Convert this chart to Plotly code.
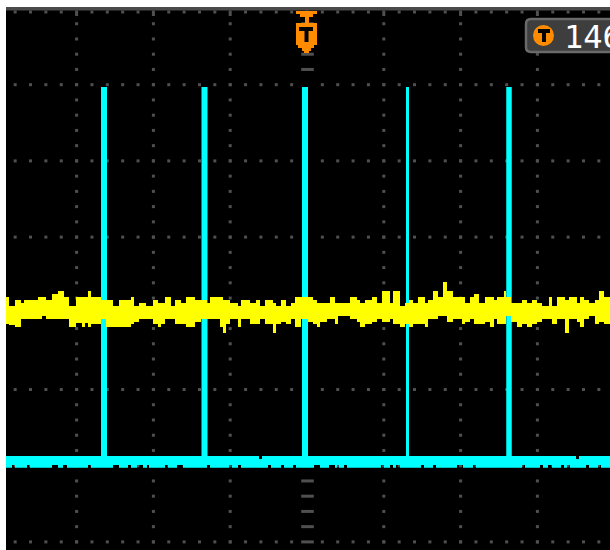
import plotly.graph_objects as go

# ---------------- data (x: sample index across the screen, y: ADC level) ----------------
# CH1 (yellow) noisy trace: segment start samples with upper / lower envelope levels
yel_t = [0, 3, 9, 15, 18, 32, 36, 40, 46, 52,
         58, 63, 70, 76, 79, 82, 85, 95, 100, 107,
         113, 125, 128, 133, 140, 147, 152, 155, 159, 165,
         169, 175, 180, 189, 195, 201, 204, 214, 217, 220,
         224, 232, 235, 244, 250, 254, 259, 267, 270, 275,
         280, 285, 289, 295, 302, 307, 311, 314, 321, 324,
         329, 332, 344, 351, 354, 359, 366, 371, 376, 384,
         387, 394, 399, 403, 407, 412, 419, 422, 427, 432,
         437, 441, 447, 456, 459, 464, 468, 473, 479, 484,
         488, 491, 498, 500, 505, 511, 516, 521, 526, 531,
         536, 543, 546, 551, 559, 563, 571, 574, 578, 583,
         589, 593, 598]
yel_hi = [253, 244, 250, 247, 250, 253, 253, 250, 256, 259,
          253, 244, 253, 253, 253, 259, 253, 250, 250, 244,
          250, 253, 244, 247, 244, 250, 247, 247, 253, 244,
          250, 247, 253, 250, 250, 247, 253, 253, 250, 250,
          247, 244, 250, 247, 250, 244, 250, 247, 244, 250,
          244, 247, 253, 253, 253, 250, 247, 247, 247, 253,
          247, 247, 253, 250, 247, 250, 253, 247, 259, 247,
          259, 244, 247, 250, 247, 253, 247, 250, 259, 253,
          268, 259, 253, 253, 247, 253, 256, 247, 253, 253,
          250, 253, 259, 253, 247, 247, 250, 247, 250, 247,
          244, 253, 244, 253, 250, 253, 247, 253, 250, 247,
          250, 259, 253]
yel_lo = [226, 225, 223, 231, 231, 231, 234, 231, 231, 231,
          231, 223, 227, 223, 227, 223, 226, 231, 223, 223,
          223, 226, 228, 231, 231, 226, 223, 226, 231, 231,
          226, 226, 223, 228, 231, 231, 231, 223, 217, 226,
          231, 223, 231, 226, 226, 231, 226, 217, 226, 228,
          226, 231, 223, 231, 228, 226, 223, 228, 231, 231,
          226, 234, 231, 228, 223, 226, 228, 231, 228, 231,
          226, 223, 226, 223, 226, 226, 223, 231, 231, 234,
          234, 228, 231, 226, 228, 231, 226, 226, 228, 223,
          231, 226, 226, 234, 228, 223, 226, 223, 226, 228,
          231, 231, 226, 231, 217, 231, 228, 223, 231, 234,
          226, 228, 226]

# CH2 (cyan) pulse train: baseline band and pulses
cyan_base_top = 94
cyan_base_bot = 85
cyan_base_ext = 82.3
cyan_top_dips = [(253, 256), (570, 573)]
cyan_bot_gaps = [(6, 9), (21, 24), (46, 52), (57, 61), (82, 85), (107, 113), (122, 125),
                 (131, 137), (141, 143), (159, 162), (171, 177), (201, 204), (223, 226),
                 (232, 235), (262, 265), (275, 278), (287, 290), (308, 314), (323, 329),
                 (331, 333), (338, 341), (375, 378), (384, 387), (390, 394), (415, 418),
                 (427, 430), (451, 457), (467, 470), (516, 519), (534, 537), (542, 546),
                 (555, 558), (561, 564), (580, 583), (592, 595)]
pulse_t = [98, 198.5, 299, 401.5, 503]
pulse_top = 463

trigger_label = "146"

# ---------------- layout / style constants ----------------
W, H = 610, 550
ML, MT = 6, 7
X_MAX = W - ML
Y_MAX = H - MT
CX = 301.0          # screen centre column (trigger position)
PITCH_X = 76.8
PITCH_Y = 76.2
ROW0 = 8.1

YELLOW = "#FFFF00"
CYAN = "#00FFFF"
ORANGE = "#FF8C00"
GRID = "#505050"
pulse_widths = [6, 6, 6, 3, 5.5]


def P(px, py):
    return px - ML, H - py


def band(t, hi, lo, t_end):
    xs, ys = [], []
    n = len(t)
    for i in range(n):
        x1 = t[i + 1] if i + 1 < n else t_end
        xs += [t[i], x1]
        ys += [hi[i], hi[i]]
    for i in reversed(range(n)):
        x1 = t[i + 1] if i + 1 < n else t_end
        xs += [x1, t[i]]
        ys += [lo[i], lo[i]]
    return xs, ys


def edge(normal, dip, gaps):
    t, v = [0], [normal]
    for a, b in gaps:
        t += [a, b]
        v += [dip, normal]
    return t, v


fig = go.Figure()

# ---- graticule ----
cols = [CX + PITCH_X * k for k in range(-4, 5) if 0 < CX + PITCH_X * k < X_MAX]
rows = [ROW0 + PITCH_Y * j for j in range(0, 7)]
sub_x = [CX + PITCH_X / 5 * m for m in range(-30, 30) if 1 < CX + PITCH_X / 5 * m < X_MAX - 1]
sub_y = [ROW0 + PITCH_Y / 5 * n for n in range(0, 40) if ROW0 + PITCH_Y / 5 * n < 533]

dx, dy = [], []
for r in rows:
    for x in sub_x:
        if abs(x - CX) > 1:
            dx.append(x); dy.append(r)
for c in cols:
    if abs(c - CX) < 1:
        continue
    for y in sub_y:
        dx.append(c); dy.append(y)
fig.add_trace(go.Scatter(x=dx, y=dy, mode="markers",
                         marker=dict(symbol="square", size=3, color=GRID, line=dict(width=0))))
centre_y = [y for y in sub_y if not (cyan_base_ext - 5 < y < pulse_top + 3)]
fig.add_trace(go.Scatter(x=[CX + 0.5] * len(centre_y), y=centre_y, mode="markers",
                         marker=dict(symbol="line-ew", size=9, color=GRID,
                                     line=dict(width=3, color=GRID))))
tx, ty = [], []
for m in range(-30, 30):
    x = CX + PITCH_X / 5 * m
    if 1 < x < X_MAX - 1:
        tx += [x, x, None]
        ty += [539.5, 534 if m % 5 == 0 else 536.5, None]
fig.add_trace(go.Scatter(x=tx, y=ty, mode="lines", line=dict(color=GRID, width=3)))

# ---- CH2 cyan ----
tt, tv = edge(cyan_base_top, cyan_base_top - 3, cyan_top_dips)
bt, bv = edge(cyan_base_ext, cyan_base_bot, cyan_bot_gaps)
xs, ys = [], []
for i in range(len(tt)):
    x1 = tt[i + 1] if i + 1 < len(tt) else X_MAX
    xs += [tt[i], x1]; ys += [tv[i], tv[i]]
for i in reversed(range(len(bt))):
    x1 = bt[i + 1] if i + 1 < len(bt) else X_MAX
    xs += [x1, bt[i]]; ys += [bv[i], bv[i]]
fig.add_trace(go.Scatter(x=xs, y=ys, mode="lines", fill="toself", fillcolor=CYAN,
                         line=dict(width=0, color=CYAN)))
for t, w in zip(pulse_t, pulse_widths):
    fig.add_trace(go.Scatter(x=[t, t], y=[(cyan_base_top + cyan_base_bot) / 2, pulse_top],
                             mode="lines", line=dict(color=CYAN, width=w)))

# ---- CH1 yellow ----
xs, ys = band(yel_t, yel_hi, yel_lo, X_MAX)
fig.add_trace(go.Scatter(x=xs, y=ys, mode="lines", fill="toself", fillcolor=YELLOW,
                         line=dict(width=0, color=YELLOW)))

# ---- decorations: top bar, trigger marker, trigger time box ----
shapes = [dict(type="rect", xref="x", yref="y", x0=0, x1=X_MAX, y0=539.5, y1=Y_MAX + 1,
               fillcolor="#4a4a4a", line=dict(width=0), layer="above")]

shield = [(296, 11), (317, 11), (317, 14), (313, 14), (313, 17), (309, 17), (309, 23),
          (317, 23), (317, 45), (314, 45), (314, 48), (311, 48), (311, 51), (309, 51),
          (309, 53), (304, 53), (304, 51), (302, 51), (302, 48), (298, 48), (298, 45),
          (296, 45), (296, 23), (305, 23), (305, 17), (300, 17), (300, 14), (296, 14)]
path = "M " + " L ".join("%.2f,%.2f" % P(a, b) for a, b in shield) + " Z"
shapes.append(dict(type="path", xref="x", yref="y", path=path, fillcolor=ORANGE,
                   line=dict(width=0), layer="above"))
for (x0, y0, x1, y1) in [(299, 27, 313, 31), (304.5, 31, 308.5, 42)]:
    a0, b0 = P(x0, y0); a1, b1 = P(x1, y1)
    shapes.append(dict(type="rect", xref="x", yref="y", x0=a0, x1=a1, y0=b0, y1=b1,
                       fillcolor="black", line=dict(width=0), layer="above"))

# rounded box top-right
bx0, by0, bx1, by1, r = 526, 19, 660, 52, 5
A = P(bx0 + r, by0); B = P(bx1, by0); C = P(bx1, by1); D = P(bx0 + r, by1)
E = P(bx0, by1); F = P(bx0, by1 - r); G = P(bx0, by0 + r); Hh = P(bx0, by0)
path = ("M %.1f,%.1f L %.1f,%.1f L %.1f,%.1f L %.1f,%.1f Q %.1f,%.1f %.1f,%.1f L %.1f,%.1f Q %.1f,%.1f %.1f,%.1f Z"
        % (A + B + C + D + E + F + G + Hh + A))
shapes.append(dict(type="path", xref="x", yref="y", path=path, fillcolor="#3e3e3e",
                   line=dict(width=2.5, color="#6a6a6a"), layer="above"))
c0 = P(533, 25); c1 = P(554, 46)
shapes.append(dict(type="circle", xref="x", yref="y", x0=c0[0], x1=c1[0], y0=c1[1], y1=c0[1],
                   fillcolor=ORANGE, line=dict(width=0), layer="above"))
for (x0, y0, x1, y1) in [(538, 29, 550, 33), (542, 33, 546, 42)]:
    a0, b0 = P(x0, y0); a1, b1 = P(x1, y1)
    shapes.append(dict(type="rect", xref="x", yref="y", x0=a0, x1=a1, y0=b0, y1=b1,
                       fillcolor="black", line=dict(width=0), layer="above"))

lx, ly = P(562, 37)
fig.add_annotation(x=lx, y=ly, xref="x", yref="y", text=trigger_label, showarrow=False,
                   xanchor="left", yanchor="middle",
                   font=dict(family="DejaVu Sans Mono", size=32, color="white"))

fig.update_layout(
    width=W, height=H,
    margin=dict(l=ML, r=0, t=MT, b=0, pad=0),
    paper_bgcolor="white", plot_bgcolor="black",
    showlegend=False, hovermode=False,
    shapes=shapes,
    xaxis=dict(range=[0, X_MAX], visible=False, fixedrange=True),
    yaxis=dict(range=[0, Y_MAX], visible=False, fixedrange=True),
)

fig.write_html("out.html", config={"displayModeBar": False, "staticPlot": True},
               post_script="document.body.style.margin='0';document.body.style.overflow='hidden';")
